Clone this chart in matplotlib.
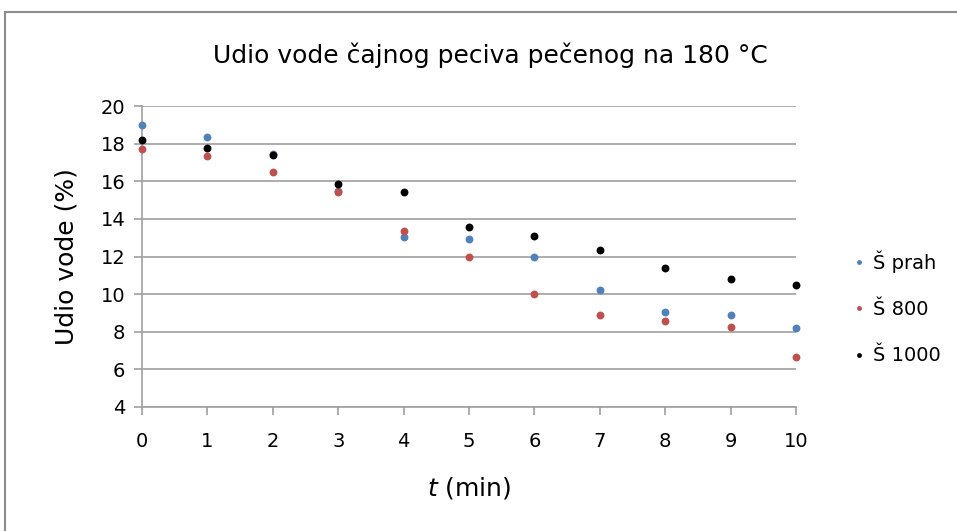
import matplotlib
matplotlib.use("Agg")
import matplotlib.pyplot as plt
import matplotlib.patches as mpatches
from matplotlib.lines import Line2D

# vrijeme pecenja (min)
t_min = [0, 1, 2, 3, 4, 5, 6, 7, 8, 9, 10]

# udio vode (%)
s_prah = [19.0, 18.33, 17.45, 15.5, 13.05, 12.93, 12.0, 10.21, 9.04, 8.9, 8.18]
s_800 = [17.7, 17.36, 16.47, 15.44, 13.35, 11.97, 10.0, 8.9, 8.56, 8.23, 6.66]
s_1000 = [18.19, 17.77, 17.38, 15.87, 15.44, 13.55, 13.09, 12.32, 11.37, 10.82, 10.48]

series_names = ["Š prah", "Š 800", "Š 1000"]
colors = ["#4F81BD", "#C0504D", "#000000"]

y_ticks = [4, 6, 8, 10, 12, 14, 16, 18, 20]

plt.rcParams['font.family'] = ['DejaVu Sans']

fig = plt.figure(figsize=(9.57, 5.31), dpi=100)
ax = fig.add_axes([142 / 957, 1 - 407 / 531, (796 - 142) / 957, (407 - 106) / 531])

# okvir oko grafikona
border = mpatches.Rectangle((5 / 957, -0.05), 1.0, 1 - 12 / 531 + 0.05,
                            transform=fig.transFigure, fill=False,
                            edgecolor="#8c8c8c", linewidth=1.5)
fig.patches.append(border)

for vals, c in zip([s_prah, s_800, s_1000], colors):
    ax.scatter(t_min, vals, s=32, color=c, zorder=3, clip_on=False, linewidths=0)

ax.set_xlim(0, 10)
ax.set_ylim(4, 20)
ax.set_xticks(t_min)
ax.set_yticks(y_ticks)
ax.grid(axis='y', color="#a0a0a0", linewidth=1.2)
ax.set_axisbelow(True)
for side in ['top', 'right']:
    ax.spines[side].set_visible(False)
for side in ['left', 'bottom']:
    ax.spines[side].set_color("#a0a0a0")
    ax.spines[side].set_linewidth(1.2)
ax.tick_params(axis='both', colors="#a0a0a0", labelcolor="black", labelsize=14,
               length=6, width=1.2)
ax.tick_params(axis='x', pad=12)
ax.tick_params(axis='y', pad=6)

ax.set_ylabel("Udio vode (%)", fontsize=18, labelpad=16)
ax.set_xlabel("$\\mathit{t}$ (min)", fontsize=18, labelpad=17)
fig.suptitle("Udio vode čajnog peciva pečenog na 180 °C", fontsize=18,
             x=490 / 957, y=1 - 55 / 531, va='center')

handles = [Line2D([], [], linestyle='none', marker='o', markersize=3.5,
                  markerfacecolor=c, markeredgewidth=0) for c in colors]
fig.legend(handles, series_names, loc='center left',
           bbox_to_anchor=(836 / 957, 1 - 308 / 531), frameon=False,
           fontsize=14, handlelength=0.6, handletextpad=0.4, labelspacing=1.4)

fig.savefig("out.png", dpi=100)
